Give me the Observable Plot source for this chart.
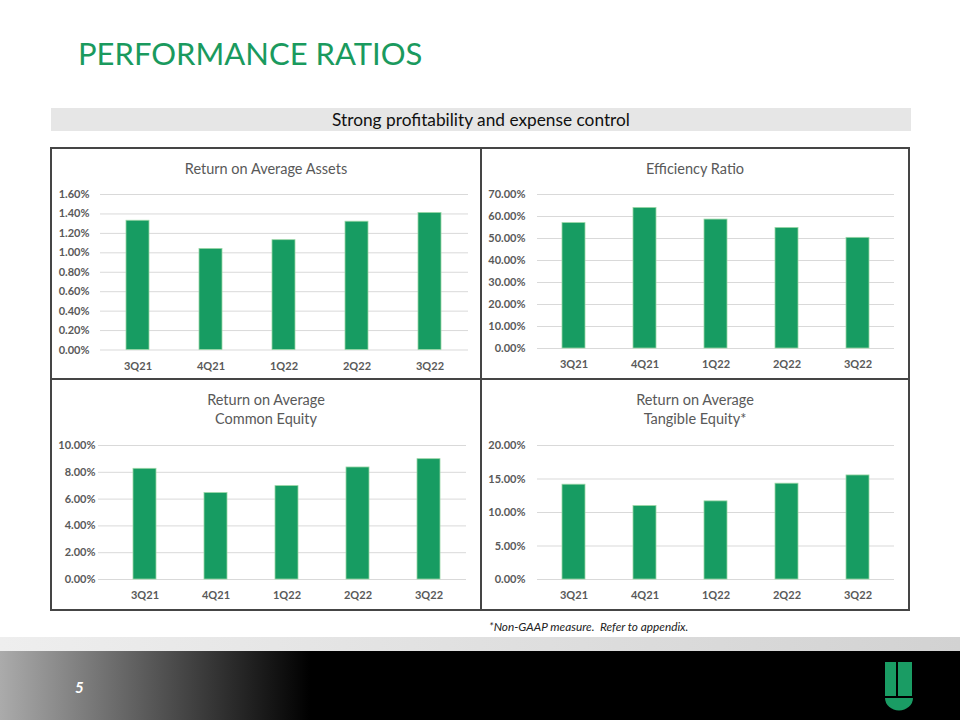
<!DOCTYPE html>
<html>
<head>
<meta charset="utf-8">
<script src="https://cdn.jsdelivr.net/npm/d3@7"></script>
<script src="https://cdn.jsdelivr.net/npm/@observablehq/plot@0.6"></script>
<style>
  body { margin: 0; width: 960px; height: 720px; position: relative; overflow: hidden; background: #fff; font-family: Lato, "Open Sans", sans-serif; }
  .abs { position: absolute; }
  #title { left: 78px; top: 38px; font-size: 31px; line-height: 31px; color: #1a9a5e; white-space: nowrap; }
  #banner { left: 51px; top: 108px; width: 860px; height: 23px; background: #e6e6e6; text-align: center; font-size: 17.3px; line-height: 23px; color: #111; }
  .panel { position: absolute; }
  .panel svg { position: absolute; left: 0; top: 0; }
  .ptitle { position: absolute; left: 0; width: 100%; text-align: center; font-size: 14.5px; line-height: 19px; color: #595959; top: 11px; }
  .line { position: absolute; background: #454545; }
  #note { left: 489px; top: 619px; font-size: 11.8px; font-style: italic; color: #222; white-space: pre; }
  #band { left: 0; top: 637px; width: 960px; height: 14px; background: linear-gradient(to right, #eeeeee, #d2d2d2); }
  #foot { left: 0; top: 651px; width: 960px; height: 69px; background: linear-gradient(to right, #ababab 0px, #000 310px, #000 960px); }
  #page { left: 75px; top: 678px; font-size: 15px; font-weight: bold; font-style: italic; color: #fff; }
  #logo { left: 884px; top: 662px; }
</style>
</head>
<body>
<div id="title" class="abs">PERFORMANCE RATIOS</div>
<div id="banner" class="abs">Strong profitability and expense control</div>
<div id="panels"></div>
<div class="line" style="left:51px;top:147px;width:859px;height:2px"></div>
<div class="line" style="left:51px;top:609px;width:859px;height:2px"></div>
<div class="line" style="left:50px;top:147px;width:2px;height:464px"></div>
<div class="line" style="left:908px;top:147px;width:2px;height:464px"></div>
<div class="line" style="left:480px;top:147px;width:2px;height:464px"></div>
<div class="line" style="left:51px;top:378px;width:859px;height:2px"></div>
<div id="note" class="abs">*Non-GAAP measure.  Refer to appendix.</div>
<div id="band" class="abs"></div>
<div id="foot" class="abs"></div>
<div id="page" class="abs">5</div>
<svg id="logo" class="abs" width="32" height="52" viewBox="0 0 32 52">
  <rect x="1" y="0" width="11" height="34" fill="#1a9c64"/>
  <rect x="14" y="0" width="14" height="34" fill="#1a9c64"/>
  <path d="M1,36 H29 A14,12.5 0 0 1 1,36 Z" fill="#1a9c64"/>
</svg>
<script>
// Quarterly performance ratios, in percent
const quarters = ["3Q21", "4Q21", "1Q22", "2Q22", "3Q22"];
const roaa = [1.33, 1.04, 1.13, 1.32, 1.41];
const efficiency = [57.0, 63.9, 58.6, 54.8, 50.3];
const roace = [8.26, 6.45, 6.97, 8.36, 8.98];
const roate = [14.15, 10.96, 11.66, 14.30, 15.53];

// Y-axis ticks for each panel
const roaaTicks = [0, 0.2, 0.4, 0.6, 0.8, 1.0, 1.2, 1.4, 1.6];
const efficiencyTicks = [0, 10, 20, 30, 40, 50, 60, 70];
const roaceTicks = [0, 2, 4, 6, 8, 10];
const roateTicks = [0, 5, 10, 15, 20];

const pct = d => d.toFixed(2) + "%";

function panel({left, top, width, height, title, values, ticks, margins, yPad, xRange}) {
  const rows = quarters.map((q, i) => ({quarter: q, value: values[i]}));
  const div = document.createElement("div");
  div.className = "panel";
  Object.assign(div.style, {left: left + "px", top: top + "px", width: width + "px", height: height + "px"});
  const chart = Plot.plot({
    width, height,
    marginLeft: margins[0], marginRight: margins[1], marginTop: margins[2], marginBottom: margins[3],
    style: {fontFamily: "Lato, 'Open Sans', sans-serif", fontSize: "11px", fontWeight: "bold", color: "#595959", background: "transparent", overflow: "visible"},
    x: {domain: quarters, paddingInner: 0.68, paddingOuter: 0.34, label: null, ...(xRange ? {range: xRange} : {})},
    y: {domain: [0, ticks[ticks.length - 1]], label: null},
    marks: [
      Plot.ruleY(ticks, {stroke: "#d9d9d9", strokeWidth: 1}),
      Plot.barY(rows, {x: "quarter", y: "value", fill: "#179c62", stroke: "#9ad6a6", strokeWidth: 0.8}),
      Plot.axisY({ticks, tickSize: 0, tickPadding: yPad, tickFormat: pct, label: null}),
      Plot.axisX({tickSize: 0, tickPadding: 12, label: null})
    ]
  });
  div.appendChild(chart);
  const t = document.createElement("div");
  t.className = "ptitle";
  t.innerHTML = title;
  div.appendChild(t);
  document.getElementById("panels").appendChild(div);
}

panel({left: 51, top: 148, width: 430, height: 231, title: "Return on Average Assets",
  values: roaa, ticks: roaaTicks, margins: [49, 13, 46, 29.5], yPad: 11});
panel({left: 481, top: 148, width: 428, height: 231, title: "Efficiency Ratio",
  values: efficiency, ticks: efficiencyTicks, margins: [56, 15, 46, 31], yPad: 12});
panel({left: 51, top: 379, width: 430, height: 231, title: "Return on Average<br>Common Equity",
  values: roace, ticks: roaceTicks, margins: [47, 15, 66, 31], yPad: 3, xRange: [56, 415]});
panel({left: 481, top: 379, width: 428, height: 231, title: "Return on Average<br>Tangible Equity*",
  values: roate, ticks: roateTicks, margins: [56, 15, 66, 31], yPad: 12});
</script>
</body>
</html>
